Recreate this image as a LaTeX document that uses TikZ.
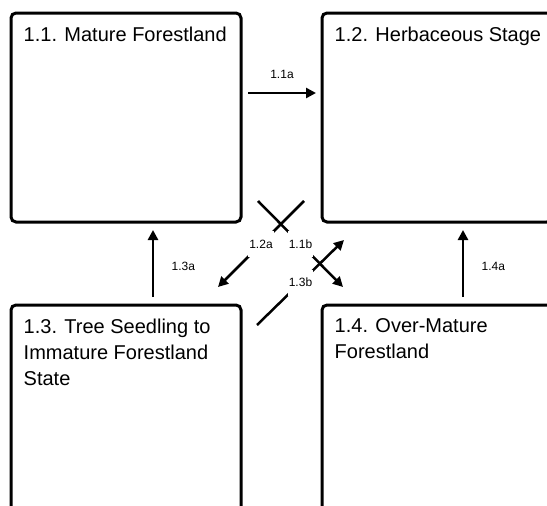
\documentclass[tikz,border=0pt]{standalone}
\usepackage{fontspec}
\setmainfont{Liberation Sans}
\usetikzlibrary{positioning, arrows.meta}

\tikzset{
  stagebox/.style={draw, line width=3pt, rounded corners=5pt, minimum width=230pt, minimum height=209pt, inner sep=0pt},
  heading/.style={anchor=north west, inner sep=0pt, align=left, font=\fontsize{20}{26}\selectfont},
  trans/.style={line width=2.5pt, -{Triangle[length=10pt,width=10pt]}},
  lab/.style={font=\fontsize{12}{14}\selectfont},
  midlab/.style={lab, fill=white, inner xsep=1pt, minimum height=26pt},
}

\begin{document}
\begin{tikzpicture}[x=1pt, y=-1pt]
\useasboundingbox (0,0) rectangle (547,506);
\clip (0,0) rectangle (547,506);
% states
\node[stagebox] (S11) at (126,117.5) {};
\node[stagebox, right=78pt of S11] (S12) {};
\node[stagebox, below=80pt of S11] (S13) {};
\node[stagebox, below=80pt of S12] (S14) {};
\node[heading] (T11) at ([xshift=14pt, yshift=-15pt]S11.north west) {1.1. Mature Forestland};
\node[heading] (T12) at ([xshift=14pt, yshift=-15pt]S12.north west) {1.2. Herbaceous Stage};
\node[heading] (T13) at ([xshift=14pt, yshift=-15pt]S13.north west) {1.3. Tree Seedling to\\Immature Forestland\\State};
\node[heading] (T14) at ([xshift=14pt, yshift=-15pt]S14.north west) {1.4. Over-Mature\\Forestland};
% transition ends
\coordinate (a11a) at (248,93);
\coordinate (b11a) at (316,93);
\coordinate (a13a) at (153,297);
\coordinate (b13a) at (153,230);
\coordinate (a14a) at (463,297);
\coordinate (b14a) at (463,230);
\coordinate (a12a) at (304,201);
\coordinate (b12a) at (218,287);
\coordinate (a11b) at (258,201);
\coordinate (b11b) at (343,287);
\coordinate (a13b) at (257,325);
\coordinate (b13b) at (344,240);
% transitions
\draw[trans] (a11a) -- node[lab, above=10pt] {1.1a} (b11a);
\draw[trans] (a13a) -- node[lab, pos=0.45, right=14pt] {1.3a} (b13a);
\draw[trans] (a14a) -- node[lab, pos=0.45, right=14pt] {1.4a} (b14a);
\draw[trans] (a12a) -- node[midlab] {1.2a} (b12a);
\draw[trans] (a11b) -- node[midlab] {1.1b} (b11b);
\draw[trans] (a13b) -- node[midlab] {1.3b} (b13b);
\end{tikzpicture}
\end{document}
